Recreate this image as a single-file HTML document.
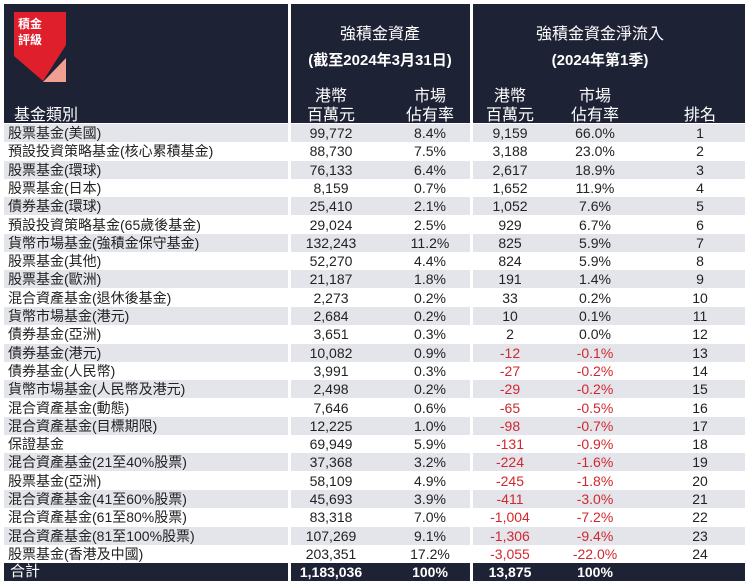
<!DOCTYPE html>
<html><head><meta charset="utf-8"><style>
body{margin:0;width:750px;height:586px;background:#fff;position:relative;overflow:hidden;font-family:"Liberation Sans","Noto Sans CJK TC",sans-serif;}
.a{position:absolute;white-space:nowrap}
.h{background:#1e2235;position:absolute}
.t{color:#fff;position:absolute;white-space:nowrap;transform:translateX(-50%);font-size:16px}
.r{position:absolute;height:18px;font-size:14px;line-height:18px;color:#222;white-space:nowrap}
.c{position:absolute;transform:translateX(-50%)}
.neg{color:#d0282e}
</style></head><body>
<div class="h" style="left:4px;top:4px;width:284px;height:119px"></div>
<div class="h" style="left:291px;top:4px;width:179px;height:119px"></div>
<div class="h" style="left:473px;top:4px;width:272px;height:119px"></div>
<svg class="a" style="left:13px;top:12px" width="56" height="72">
<polygon points="1,0 53,0 53,33 30,69 1,44" fill="#e01f2d"/>
<polygon points="53,46 53,70 30,70" fill="#f0a090"/>
<text x="5" y="16" fill="#fff" font-size="12" font-weight="bold" font-family="Noto Sans CJK TC">積金</text>
<text x="5" y="32" fill="#fff" font-size="12" font-weight="bold" font-family="Noto Sans CJK TC">評級</text>
</svg>
<div class="t" style="left:14px;top:101px;transform:none">基金類別</div>
<div class="t" style="left:380px;top:20px">強積金資產</div>
<div class="t" style="left:380px;top:49px;font-weight:bold;font-size:15px">(截至2024年3月31日)</div>
<div class="t" style="left:600px;top:20px">強積金資金淨流入</div>
<div class="t" style="left:600px;top:49px;font-weight:bold;font-size:15px">(2024年第1季)</div>
<div class="t" style="left:331px;top:82px">港幣</div>
<div class="t" style="left:331px;top:101px">百萬元</div>
<div class="t" style="left:430px;top:82px">市場</div>
<div class="t" style="left:430px;top:101px">佔有率</div>
<div class="t" style="left:510px;top:82px">港幣</div>
<div class="t" style="left:510px;top:101px">百萬元</div>
<div class="t" style="left:595px;top:82px">市場</div>
<div class="t" style="left:595px;top:101px">佔有率</div>
<div class="t" style="left:700px;top:101px">排名</div>
<div id="rows"></div>
<script>
const names=["股票基金(美國)","預設投資策略基金(核心累積基金)","股票基金(環球)","股票基金(日本)","債券基金(環球)","預設投資策略基金(65歲後基金)","貨幣市場基金(強積金保守基金)","股票基金(其他)","股票基金(歐洲)","混合資產基金(退休後基金)","貨幣市場基金(港元)","債券基金(亞洲)","債券基金(港元)","債券基金(人民幣)","貨幣市場基金(人民幣及港元)","混合資產基金(動態)","混合資產基金(目標期限)","保證基金","混合資產基金(21至40%股票)","股票基金(亞洲)","混合資產基金(41至60%股票)","混合資產基金(61至80%股票)","混合資產基金(81至100%股票)","股票基金(香港及中國)"];
const assets=["99,772","88,730","76,133","8,159","25,410","29,024","132,243","52,270","21,187","2,273","2,684","3,651","10,082","3,991","2,498","7,646","12,225","69,949","37,368","58,109","45,693","83,318","107,269","203,351"];
const assetShare=["8.4%","7.5%","6.4%","0.7%","2.1%","2.5%","11.2%","4.4%","1.8%","0.2%","0.2%","0.3%","0.9%","0.3%","0.2%","0.6%","1.0%","5.9%","3.2%","4.9%","3.9%","7.0%","9.1%","17.2%"];
const flows=["9,159","3,188","2,617","1,652","1,052","929","825","824","191","33","10","2","-12","-27","-29","-65","-98","-131","-224","-245","-411","-1,004","-1,306","-3,055"];
const flowShare=["66.0%","23.0%","18.9%","11.9%","7.6%","6.7%","5.9%","5.9%","1.4%","0.2%","0.1%","0.0%","-0.1%","-0.2%","-0.2%","-0.5%","-0.7%","-0.9%","-1.6%","-1.8%","-3.0%","-7.2%","-9.4%","-22.0%"];
const R=document.getElementById('rows');
const top0=124,rh=18.3;
function seg(y,l,w,bg){const d=document.createElement('div');d.className='a';d.style.cssText=`left:${l}px;top:${y}px;width:${w}px;height:18px;background:${bg}`;


R.appendChild(d);}
function txt(y,x,s,cls,center,extra){const d=document.createElement('div');d.className='r '+(center?'c ':'')+(cls||'');d.style.left=x+'px';d.style.top=y+'px';if(extra)d.style.cssText+=extra;d.textContent=s;


R.appendChild(d);}
names.forEach((n,i)=>{const y=Math.round(top0+i*rh);
 if(i%2==0){seg(y,4,284,'#e3e5eb');seg(y,291,179,'#e3e5eb');seg(y,473,272,'#e3e5eb');}
 txt(y,8,n);txt(y,331,assets[i],'',1);txt(y,430,assetShare[i],'',1);
 const neg=flows[i].startsWith('-')?'neg':'';
 txt(y,510,flows[i],neg,1);txt(y,595,flowShare[i],neg,1);txt(y,700,String(i+1),'',1);});
const yt=Math.round(top0+24*rh);
const bgs=[[4,284],[291,179],[473,272]];
bgs.forEach(b=>{const d=document.createElement('div');d.className='h';d.style.cssText=`left:${b[0]}px;top:${yt}px;width:${b[1]}px;height:18px`;


R.appendChild(d);});
txt(yt,10,'合計','','',';color:#fff;font-size:15px');
txt(yt,331,'1,183,036','',1,';color:#fff;font-weight:bold');
txt(yt,430,'100%','',1,';color:#fff;font-weight:bold');
txt(yt,510,'13,875','',1,';color:#fff;font-weight:bold');
txt(yt,595,'100%','',1,';color:#fff;font-weight:bold');
</script>
</body></html>
